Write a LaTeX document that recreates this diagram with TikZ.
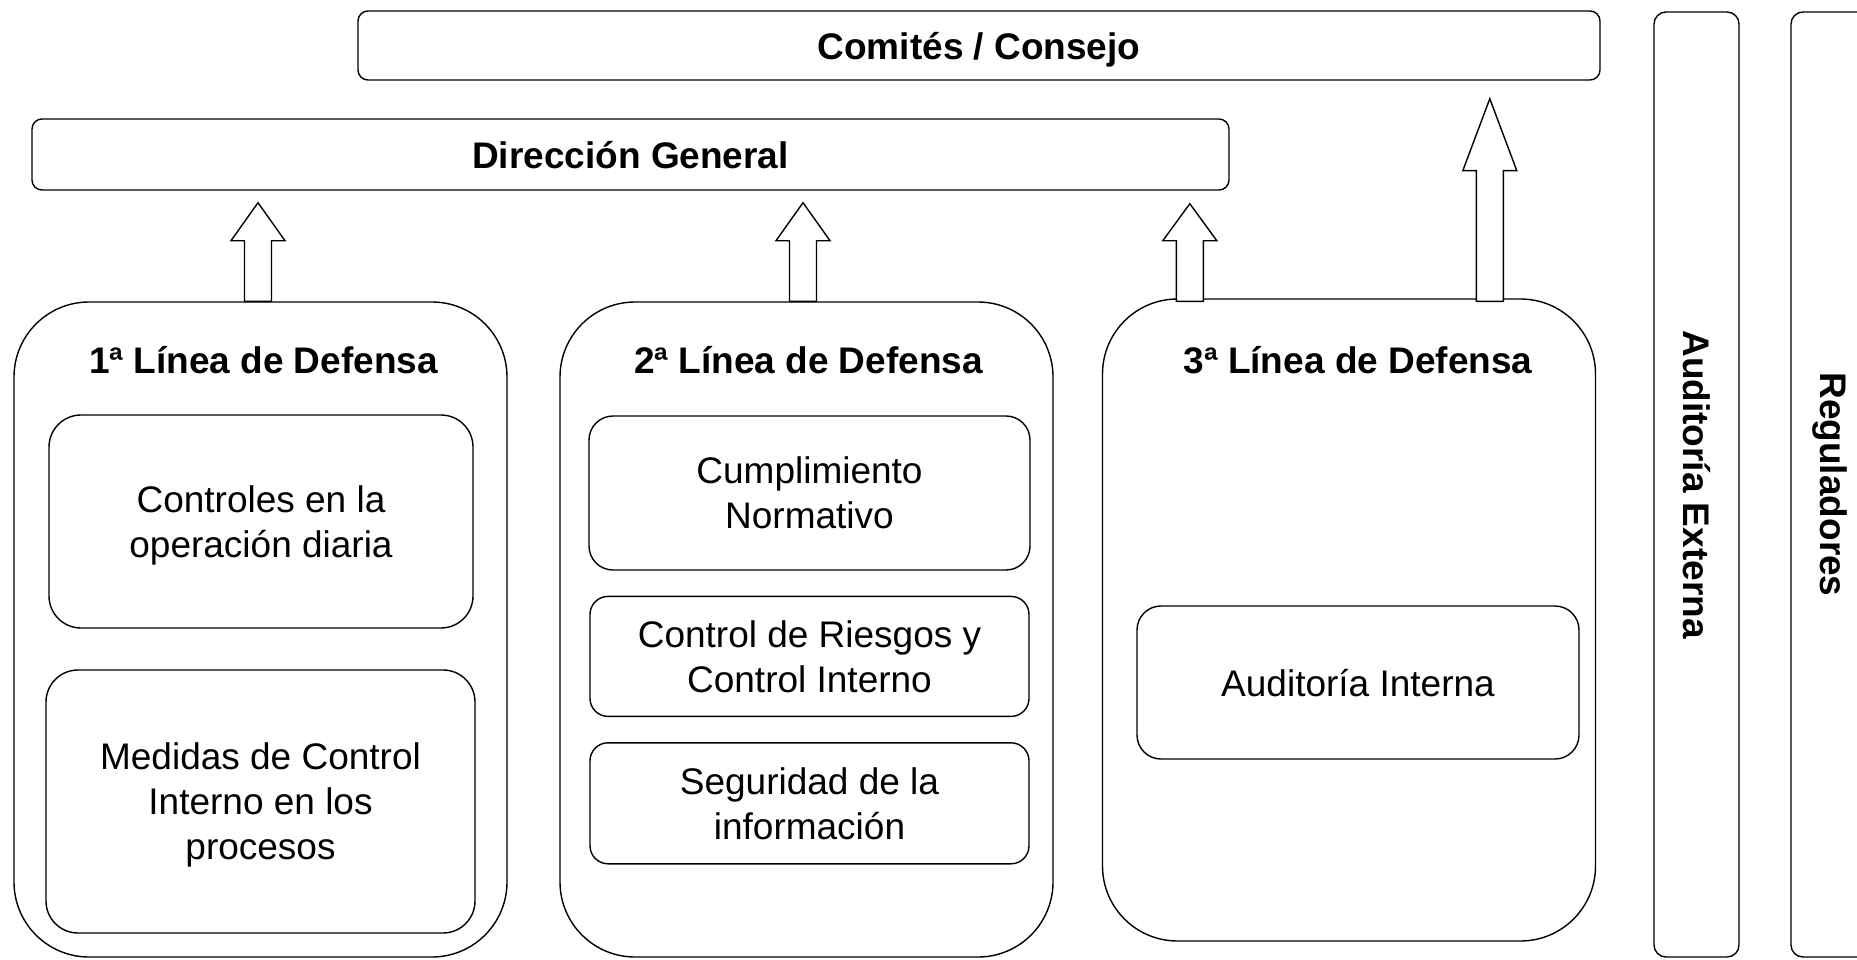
\documentclass[tikz,border=0pt]{standalone}
\usepackage{fontspec}
\setmainfont{Liberation Sans}
\usetikzlibrary{positioning, calc}

\newcommand{\upwardarrow}[3]{%
  \draw[fatarrow] let \p1=(#1), \p2=(#2) in
    (\x1-13.5pt,\y1) -- (\x1-13.5pt,\y2-#3pt) -- (\x1-27pt,\y2-#3pt) -- (\x1,\y2)
    -- (\x1+27pt,\y2-#3pt) -- (\x1+13.5pt,\y2-#3pt) -- (\x1+13.5pt,\y1) -- cycle;}

\begin{document}
\begin{tikzpicture}[
        x=1pt, y=-1pt, line width=1.4pt,
        banner/.style={rectangle, draw, rounded corners=10pt, inner sep=0pt, text depth=0pt, font=\fontsize{37}{45}\selectfont\bfseries},
        sidebar/.style={rectangle, draw, rounded corners=12pt, inner sep=0pt, rotate=-90, minimum width=945pt, font=\fontsize{37}{45}\selectfont\bfseries},
        lineabox/.style={rectangle, draw, rounded corners=75pt, inner sep=0pt, minimum width=493pt, minimum height=655pt},
        titulo/.style={inner sep=0pt, anchor=base, font=\fontsize{37}{45}\selectfont\bfseries},
        itembox/.style={rectangle, draw, rounded corners=24pt, inner sep=0pt, align=center, text depth=0pt, font=\fontsize{37}{45}\selectfont},
        fatarrow/.style={draw, fill=white, line join=miter},
        node distance=25pt
        ]
        \useasboundingbox (0,0) rectangle (1857,960);

        % Top boxes
        \node[banner, minimum width=1242pt, minimum height=69pt] (consejo) at (979,45.5) {Comités / Consejo};
        \node[banner, minimum width=1197pt, minimum height=71pt] (direccion) at (630.5,154.5) {Dirección General};

        % Lines of defense
        \node[lineabox] (linea1) at (260.5,629.5) {};
        \node[lineabox] (linea2) at (806.5,629.5) {};
        \node[lineabox, minimum height=642pt] (linea3) at (1349,620) {};
        \node[titulo] (titulo1) at ($(linea1.north)+(3,72)$) {1ª Línea de Defensa};
        \node[titulo] (titulo2) at ($(linea2.north)+(2,72)$) {2ª Línea de Defensa};
        \node[titulo] (titulo3) at ($(linea3.north)+(9,75)$) {3ª Línea de Defensa};

        % External boxes
        \node[sidebar, minimum height=85pt] (auditext) at (1696.5,484.5) {Auditoría Externa};
        \node[sidebar, minimum height=78pt] (reguladores) at (1830,484.5) {Reguladores};

        % Inner boxes
        \node[itembox, rounded corners=32pt, minimum width=424pt, minimum height=213pt] (controles) at (261,521.5) {Controles en la\\operación diaria};
        \node[itembox, rounded corners=32pt, minimum width=429pt, minimum height=263pt] (medidas) at (260.5,801.5) {Medidas de Control\\Interno en los\\procesos};
        \node[itembox, minimum width=441pt, minimum height=154pt] (cumplimiento) at (809.5,493) {Cumplimiento\\Normativo};
        \node[itembox, rounded corners=18pt, minimum width=439pt, minimum height=120pt, below=of cumplimiento] (riesgos) {Control de Riesgos y\\Control Interno};
        \node[itembox, rounded corners=18pt, minimum width=439pt, minimum height=121pt, below=of riesgos] (seguridad) {Seguridad de la\\información};
        \node[itembox, minimum width=442pt, minimum height=153pt] (auditint) at (1358,682.5) {Auditoría Interna};

        % Arrows
        \coordinate (pie1) at ($(linea1.north)+(-2.5,0)$);
        \coordinate (punta1) at ($(pie1 |- direccion.south)+(0,12)$);
        \coordinate (pie2) at ($(linea2.north)+(-3.5,0)$);
        \coordinate (punta2) at ($(pie2 |- direccion.south)+(0,12)$);
        \coordinate (pie3) at ($(linea3.north west)+(88,3)$);
        \coordinate (punta3) at ($(pie3 |- direccion.south)+(0,13)$);
        \coordinate (pie4) at ($(linea3.north west)+(388,3)$);
        \coordinate (punta4) at ($(pie4 |- consejo.south)+(0,18)$);
        \upwardarrow{pie1}{punta1}{38}
        \upwardarrow{pie2}{punta2}{38}
        \upwardarrow{pie3}{punta3}{37}
        \upwardarrow{pie4}{punta4}{72}

\end{tikzpicture}
\end{document}
